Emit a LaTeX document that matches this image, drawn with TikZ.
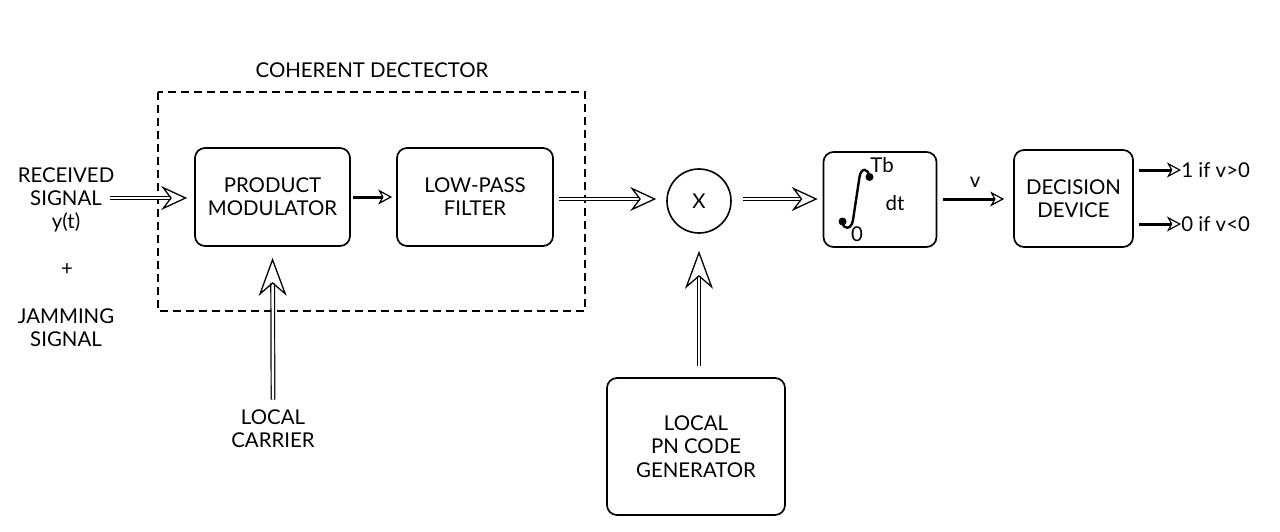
\documentclass[tikz,border=0pt]{standalone}
\usepackage{fontspec}
\setmainfont{Lato}
\usetikzlibrary{arrows.meta,calc}
\begin{document}
\begin{tikzpicture}[x=0.5pt,y=-0.5pt,
  every node/.style={font=\fontsize{10.2}{11.6}\selectfont, text=black},
  blk/.style={draw, line width=0.85pt, rounded corners=5pt, align=center, inner sep=0pt},
  lbl/.style={align=center, inner sep=0pt},
  dbl/.style={double, double distance=1.2pt, line width=0.6pt, -{Stealth[open, length=13pt, width=12pt, inset=4.5pt, line width=0.65pt]}},
  dblv/.style={double, double distance=1.2pt, line width=0.6pt, -{Stealth[open, length=19pt, width=14pt, inset=6pt, line width=0.65pt]}},
  thk/.style={line width=1.5pt, -{Stealth[open, length=7pt, width=7.5pt, inset=2pt, line width=0.6pt]}},
  dashbox/.style={draw, line width=0.65pt, dash pattern=on 4pt off 2.5pt}
]
\useasboundingbox (0,0) rectangle (1280,531);
% dashed detector box
\draw[dashbox] (158,92) rectangle (585,311);
\node[lbl] (title) at (372,70) {COHERENT DECTECTOR};
% blocks
\node[blk, minimum width=77.5pt, minimum height=49pt] (pm) at (272.5,197) {PRODUCT\\MODULATOR};
\node[blk, minimum width=78pt, minimum height=49pt] (lpf) at (475,197) {LOW-PASS\\FILTER};
\node[draw, circle, line width=0.8pt, minimum size=32pt, inner sep=0pt] (mix) at (699,201) {X};
\node[blk, minimum width=56.5pt, minimum height=47.5pt] (intg) at (880,199.5) {};
\node[blk, minimum width=59.5pt, minimum height=48.5pt] (dec) at (1073.5,198.5) {DECISION\\DEVICE};
\node[blk, minimum width=89pt, minimum height=68.5pt] (pn) at (696,446.5) {LOCAL\\PN CODE\\GENERATOR};
% integrator contents
\draw[line width=1.2pt, line cap=round] (869,177) .. controls (869,168) and (861,167) .. (859.5,177) -- (853,220) .. controls (851.5,230) and (843,230) .. (842.5,222);
\fill (869.5,177) circle (2pt);
\fill (842.5,221.5) circle (2pt);
\node[lbl] (tb) at (882,165) {Tb};
\node[lbl] (lo) at (857,234) {0};
\node[lbl] (dt) at (895,203) {dt};
% left labels
\node[lbl] (rx) at (66,200) {RECEIVED\\SIGNAL\\y(t)};
\node[lbl] (plus) at (67,270) {+};
\node[lbl] (jam) at (66,327.5) {JAMMING\\SIGNAL};
\coordinate (in) at (110,198);
% local carrier
\node[lbl] (lc) at (273,429) {LOCAL\\CARRIER};
% outputs
\node[lbl, anchor=west] (o1) at (1181,170) {1 if v>0};
\node[lbl, anchor=west] (o0) at (1181,224) {0 if v<0};
% connectors
\draw[dbl, shorten >=3.5pt] (in) -- (in -| pm.west);
\draw[thk, shorten <=1pt, shorten >=2pt] (pm.east) -- (lpf.west);
\draw[dbl, shorten <=2.5pt, shorten >=5pt] (lpf.east |- 0,199) -- (mix.west |- 0,199);
\draw[dbl, shorten <=5.5pt, shorten >=2.5pt] (mix.east |- 0,199) -- (intg.west |- 0,199);
\draw[thk, shorten <=3pt, shorten >=4.5pt] (intg.east |- 0,199) -- node[lbl, above=5pt] (v) {v} (dec.west |- 0,199);
\draw[dblv, shorten <=1pt, shorten >=5.5pt] ($(lc.north)+(0,-8)$) -- (pm.south);
\draw[dblv, shorten <=5.5pt, shorten >=8.5pt] (pn.north -| mix) -- (mix.south);
\draw[thk, shorten <=2.5pt] (dec.east |- o1) -- (o1.west);
\draw[thk, shorten <=2.5pt] (dec.east |- o0) -- (o0.west);
\end{tikzpicture}
\end{document}
